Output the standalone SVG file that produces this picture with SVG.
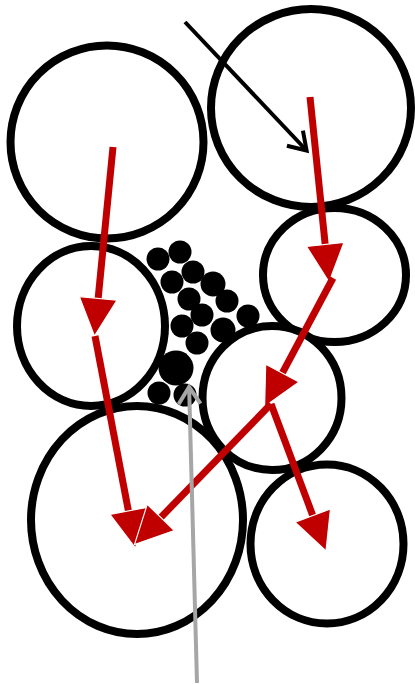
<svg xmlns="http://www.w3.org/2000/svg" width="415" height="684" viewBox="0 0 415 684">
  <style>
    .grain { fill: #ffffff; stroke: #000000; stroke-width: 8; }
    .dot { fill: #000000; }
    .red { stroke: #C00000; stroke-width: 7; fill: none; marker-end: url(#redHead); }
    .blk { stroke: #000000; stroke-width: 4; fill: none; marker-end: url(#blkHead); }
    .gry { stroke: #A6A6A6; stroke-width: 4; fill: none; marker-end: url(#gryHead); }
  </style>
  <defs>
    <marker id="redHead" markerUnits="userSpaceOnUse" markerWidth="40" markerHeight="40" viewBox="-1 -1 35 35" refX="12" refY="16.5" orient="auto">
      <path d="M0,0 L33,16.5 L0,33 z" fill="#C00000" stroke="#ffffff" stroke-width="1"/>
    </marker>
    <marker id="blkHead" markerUnits="userSpaceOnUse" markerWidth="30" markerHeight="30" viewBox="-2 -2 26 30" refX="19" refY="13" orient="auto">
      <path d="M2,2 L19,13 L2,24" fill="none" stroke="#000000" stroke-width="4" stroke-linejoin="miter"/>
    </marker>
    <marker id="gryHead" markerUnits="userSpaceOnUse" markerWidth="30" markerHeight="30" viewBox="-2 -2 26 30" refX="19" refY="13" orient="auto">
      <path d="M2,2 L19,13 L2,24" fill="none" stroke="#A6A6A6" stroke-width="4" stroke-linejoin="miter"/>
    </marker>
  </defs>

  <rect width="415" height="684" fill="#ffffff"/>

  <g id="grain-top-left"><ellipse class="grain" cx="107" cy="142" rx="96.5" ry="96.5"/></g>
  <g id="grain-top-right"><ellipse class="grain" cx="311" cy="108" rx="100" ry="99"/></g>
  <g id="grain-mid-left"><ellipse class="grain" cx="91" cy="326" rx="74" ry="80"/></g>
  <g id="grain-mid-right"><ellipse class="grain" cx="334.5" cy="275" rx="71.5" ry="67"/></g>
  <g id="grain-center"><ellipse class="grain" cx="272" cy="398" rx="69.5" ry="72"/></g>
  <g id="grain-bottom-left"><ellipse class="grain" cx="137" cy="520" rx="106" ry="114"/></g>
  <g id="grain-bottom-right"><ellipse class="grain" cx="327" cy="544" rx="76.5" ry="79.5"/></g>

  <g id="fines">
    <circle class="dot" cx="158" cy="259" r="11.5"/>
    <circle class="dot" cx="180" cy="252" r="11.5"/>
    <circle class="dot" cx="193" cy="272" r="11.5"/>
    <circle class="dot" cx="172" cy="282" r="11.5"/>
    <circle class="dot" cx="213" cy="284" r="12.5"/>
    <circle class="dot" cx="189" cy="299" r="11.5"/>
    <circle class="dot" cx="227" cy="301" r="11.5"/>
    <circle class="dot" cx="202" cy="315" r="11.5"/>
    <circle class="dot" cx="248" cy="316" r="11.5"/>
    <circle class="dot" cx="182" cy="326" r="11.5"/>
    <circle class="dot" cx="223" cy="330" r="12.5"/>
    <circle class="dot" cx="197" cy="343" r="11.5"/>
    <circle class="dot" cx="176" cy="368" r="17.5"/>
    <circle class="dot" cx="159" cy="393" r="11.5"/>
    <circle class="dot" cx="185" cy="395" r="11.5"/>
  </g>

  <g id="connectors">
    <line class="blk" x1="185" y1="22" x2="306.6" y2="150.5"/>
    <line class="red" x1="310" y1="97" x2="326.6" y2="258.1"/>
    <line class="red" x1="113" y1="147" x2="96.8" y2="312.1"/>
    <line class="red" x1="95" y1="336" x2="131" y2="524.4"/>
    <line class="red" x1="333" y1="278" x2="275.9" y2="385.2"/>
    <line class="red" x1="271" y1="404" x2="151.2" y2="527.3"/>
    <line class="red" x1="271" y1="404" x2="317.6" y2="528.4"/>
    <line class="gry" x1="197" y1="683" x2="189.1" y2="387"/>
  </g>
</svg>
